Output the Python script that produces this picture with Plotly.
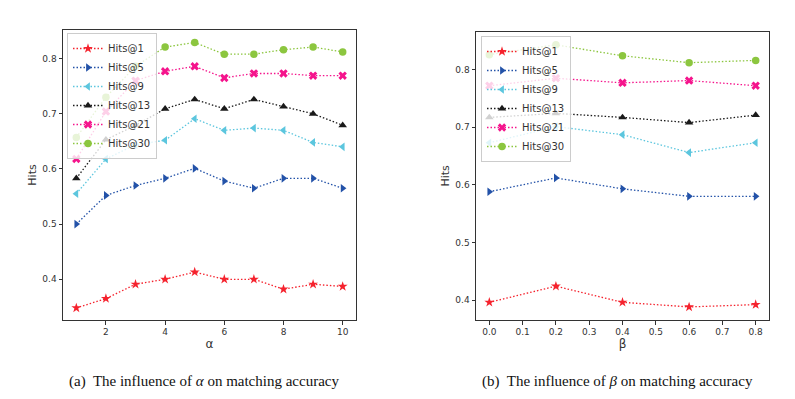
import plotly.graph_objects as go

alpha = [1, 2, 3, 4, 5, 6, 7, 8, 9, 10]
beta = [0.0, 0.2, 0.4, 0.6, 0.8]
series_names = ["Hits@1", "Hits@5", "Hits@9", "Hits@13", "Hits@21", "Hits@30"]

alpha_hits1 = [0.348, 0.365, 0.391, 0.400, 0.413, 0.400, 0.400, 0.382, 0.391, 0.387]
alpha_hits5 = [0.500, 0.552, 0.570, 0.583, 0.601, 0.578, 0.565, 0.583, 0.583, 0.565]
alpha_hits9 = [0.555, 0.618, 0.644, 0.652, 0.691, 0.670, 0.674, 0.670, 0.648, 0.640]
alpha_hits13 = [0.583, 0.653, 0.679, 0.709, 0.726, 0.709, 0.726, 0.713, 0.700, 0.679]
alpha_hits21 = [0.618, 0.704, 0.760, 0.777, 0.786, 0.765, 0.773, 0.773, 0.769, 0.769]
alpha_hits30 = [0.657, 0.730, 0.786, 0.821, 0.829, 0.808, 0.808, 0.816, 0.821, 0.812]

beta_hits1 = [0.396, 0.424, 0.396, 0.388, 0.392]
beta_hits5 = [0.588, 0.612, 0.593, 0.580, 0.580]
beta_hits9 = [0.673, 0.701, 0.687, 0.656, 0.673]
beta_hits13 = [0.717, 0.724, 0.717, 0.708, 0.721]
beta_hits21 = [0.772, 0.785, 0.777, 0.781, 0.772]
beta_hits30 = [0.826, 0.843, 0.824, 0.812, 0.816]

alpha_ticks = [2, 4, 6, 8, 10]
beta_ticks = [0.0, 0.1, 0.2, 0.3, 0.4, 0.5, 0.6, 0.7, 0.8]
hits_ticks = [0.4, 0.5, 0.6, 0.7, 0.8]

colors = ["#f5222d", "#2352a8", "#5cc6de", "#1a1a1a", "#f5148c", "#8cc63f"]
symbols = ["star", "triangle-right", "triangle-left", "triangle-up", "x", "circle"]

alpha_series = [alpha_hits1, alpha_hits5, alpha_hits9, alpha_hits13, alpha_hits21, alpha_hits30]
beta_series = [beta_hits1, beta_hits5, beta_hits9, beta_hits13, beta_hits21, beta_hits30]

fig = go.Figure()
for name, ys, c, s in zip(series_names, alpha_series, colors, symbols):
    fig.add_trace(go.Scatter(x=alpha, y=ys, name=name, mode="lines+markers",
                             line=dict(color=c, width=1.3, dash="1.5px,2px"),
                             marker=dict(color=c, symbol=s, size=7.5, line=dict(width=0)),
                             xaxis="x", yaxis="y", legend="legend"))
for name, ys, c, s in zip(series_names, beta_series, colors, symbols):
    fig.add_trace(go.Scatter(x=beta, y=ys, name=name, mode="lines+markers",
                             line=dict(color=c, width=1.3, dash="1.5px,2px"),
                             marker=dict(color=c, symbol=s, size=7.5, line=dict(width=0)),
                             xaxis="x2", yaxis="y2", legend="legend2"))

W, H = 795, 399
def px(x): return x / W
def py(y): return 1 - y / H

tickfont = dict(family="DejaVu Sans", size=9, color="#333333")
axis_common = dict(showgrid=False, zeroline=False, showline=True, mirror=True,
                   linecolor="#333333", linewidth=1, ticks="outside", ticklen=3.5,
                   tickwidth=1, tickcolor="#333333", tickfont=tickfont)

legend_common = dict(font=dict(family="DejaVu Sans", size=10, color="#333333"),
                     bgcolor="rgba(255,255,255,0.8)", bordercolor="#cccccc", borderwidth=1,
                     xanchor="left", yanchor="top", tracegroupgap=0, itemwidth=30)

fig.update_layout(
    width=W, height=H, margin=dict(l=0, r=0, t=0, b=0),
    paper_bgcolor="white", plot_bgcolor="white",
    xaxis=dict(domain=[px(63), px(356)], range=[0.55, 10.45], tickvals=alpha_ticks,
               anchor="y", title=dict(text="α", font=dict(family="DejaVu Sans", size=12, color="#333333"), standoff=3),
               **axis_common),
    yaxis=dict(domain=[py(320), py(30)], range=[0.3262, 0.8518], tickvals=hits_ticks,
               tickformat=".1f", anchor="x",
               title=dict(text="Hits", font=dict(family="DejaVu Sans", size=11, color="#333333"), standoff=3),
               **axis_common),
    xaxis2=dict(domain=[px(476), px(769)], range=[-0.04, 0.84], tickvals=beta_ticks,
                tickformat=".1f", anchor="y2",
                title=dict(text="β", font=dict(family="DejaVu Sans", size=12, color="#333333"), standoff=3),
                **axis_common),
    yaxis2=dict(domain=[py(320), py(31.7)], range=[0.3653, 0.8658], tickvals=hits_ticks,
                tickformat=".1f", anchor="x2",
                title=dict(text="Hits", font=dict(family="DejaVu Sans", size=11, color="#333333"), standoff=3),
                **axis_common),
    legend=dict(x=px(67), y=py(33), **legend_common),
    legend2=dict(x=px(481), y=py(36), **legend_common),
    annotations=[
        dict(text="(a)  The influence of <i>α</i> on matching accuracy", x=px(204), y=py(381),
             xref="paper", yref="paper", showarrow=False, xanchor="center", yanchor="middle",
             font=dict(family="Liberation Serif", size=15, color="#111111")),
        dict(text="(b)  The influence of <i>β</i> on matching accuracy", x=px(617), y=py(381),
             xref="paper", yref="paper", showarrow=False, xanchor="center", yanchor="middle",
             font=dict(family="Liberation Serif", size=15, color="#111111")),
    ],
)

fig.write_html("out.html", config={"displayModeBar": False})

with open("out.html", "r", encoding="utf-8") as f:
    html = f.read()
html = html.replace("<head>", "<head><style>html,body{margin:0;padding:0;}</style>", 1)
with open("out.html", "w", encoding="utf-8") as f:
    f.write(html)
